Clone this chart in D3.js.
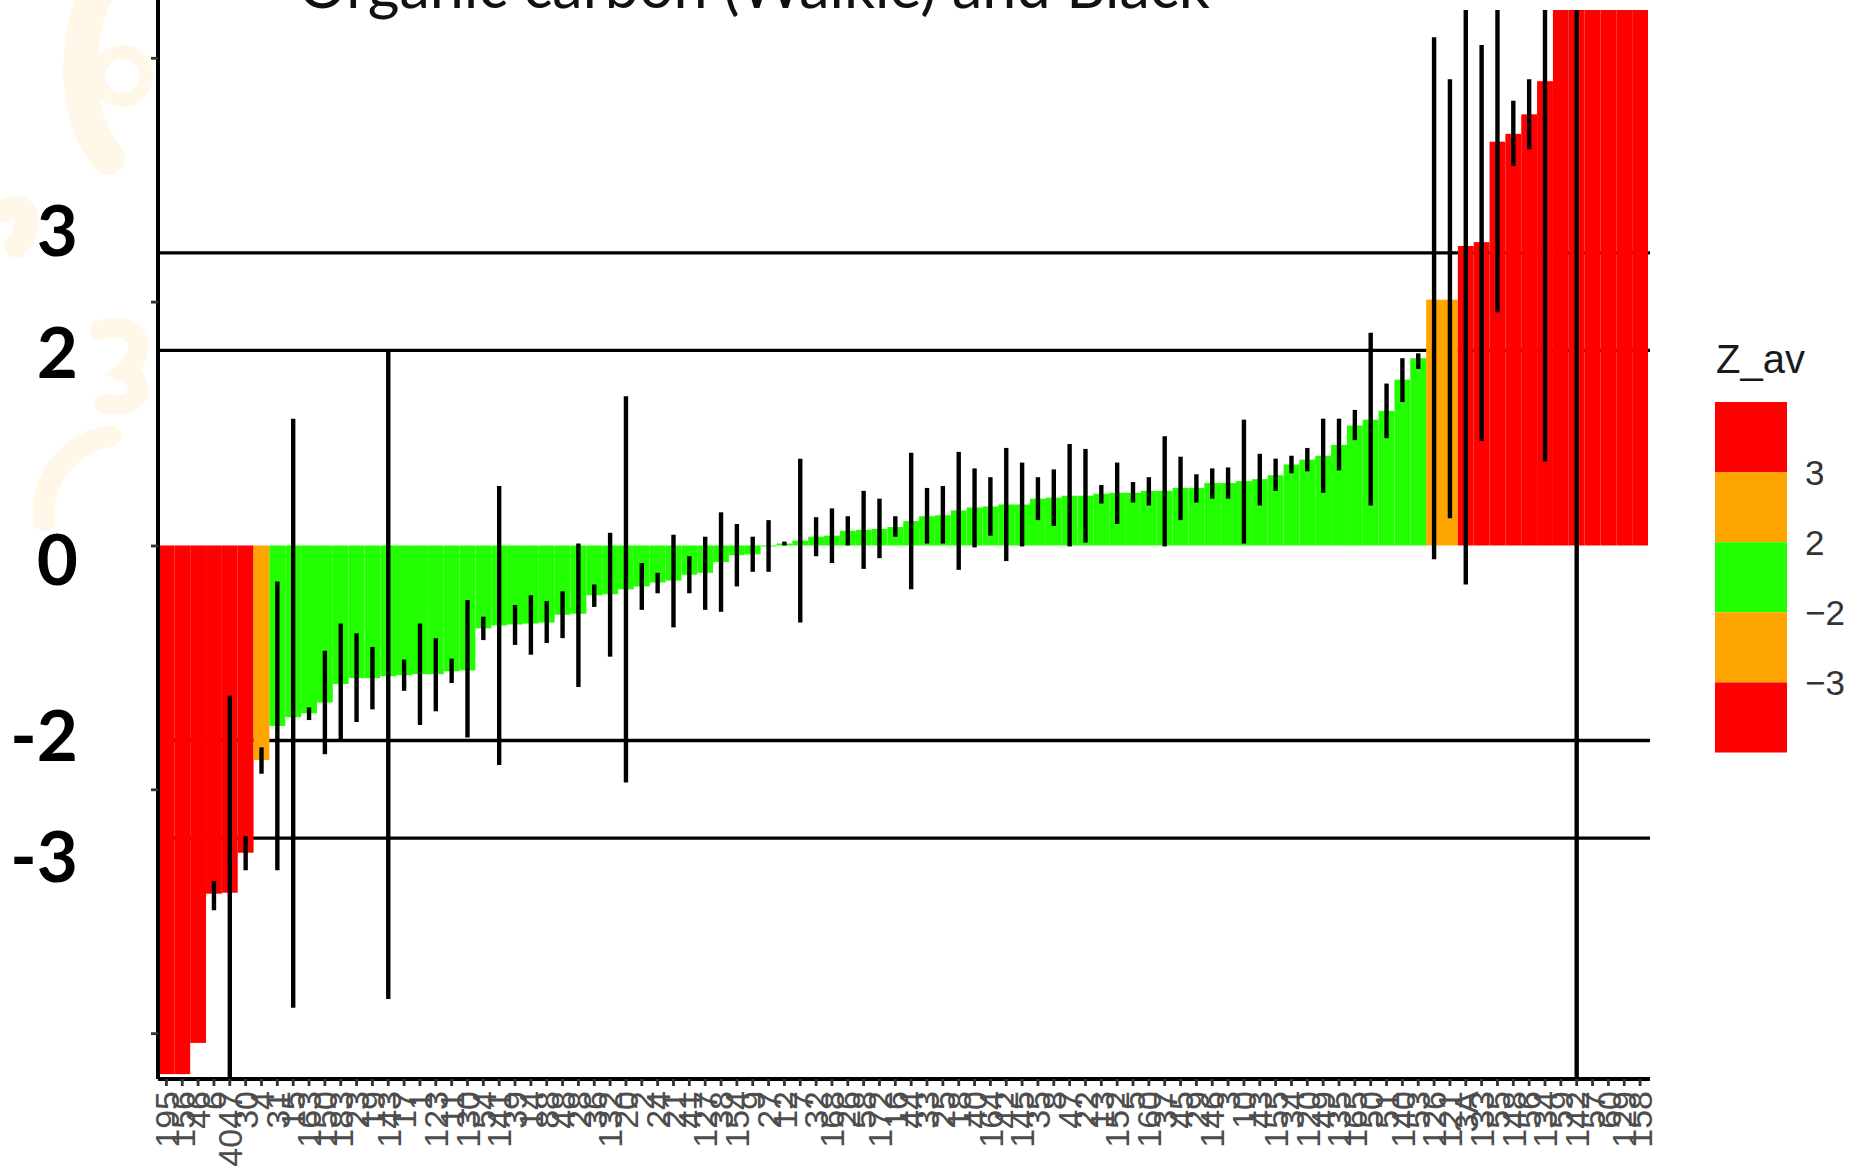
<!DOCTYPE html>
<html>
<head>
<meta charset="utf-8">
<script src="https://cdn.jsdelivr.net/npm/d3@7"></script>
<style>
  html, body { margin: 0; padding: 0; background: #ffffff; }
  svg { display: block; }
</style>
</head>
<body>
<svg id="chart" width="1864" height="1168"></svg>
<script>
// Laboratory codes, ordered by z-score
const labIds = [
  "195","156","46","6","4047","30","4","31","15","163","150","183","23","19","143",
  "17","1","123","11","130","54","141","39","14","88","48","28","36","132","20",
  "2","24","21","41","127","38","154","9","27","12","7","32","168","26","58",
  "172","16","44","33","25","18","40","164","42","145","35","8","47","22","13",
  "152","5","160","37","45","29","146","3","10","43","155","34","120","49","135",
  "165","50","51","140","53","126","121","3A","133","55","148","56","134","59","142",
  "57","60","129","158"
];

// Average z-score per laboratory
const zScores = [
  -5.42,-5.42,-5.10,-3.57,-3.56,-3.15,-2.20,-1.85,-1.76,-1.72,
  -1.61,-1.42,-1.36,-1.36,-1.34,-1.33,-1.32,-1.32,-1.29,-1.28,
  -0.85,-0.82,-0.81,-0.80,-0.79,-0.71,-0.70,-0.51,-0.50,-0.45,
  -0.42,-0.38,-0.36,-0.30,-0.28,-0.17,-0.10,-0.09,-0.01,0.02,
  0.05,0.09,0.10,0.15,0.16,0.17,0.19,0.25,0.30,0.31,
  0.36,0.39,0.40,0.42,0.42,0.48,0.49,0.51,0.51,0.53,
  0.54,0.54,0.56,0.56,0.59,0.59,0.64,0.64,0.66,0.68,
  0.72,0.83,0.88,0.92,1.03,1.23,1.29,1.38,1.70,1.92,
  2.52,2.52,3.07,3.11,4.14,4.22,4.42,4.76,6.2,7.0,
  8.5,10.0,12.5,16.0
];

// Lower and upper ends of the error bars (null: no bar)
const errLow = [
  null,null,null,-3.74,-5.60,-3.33,-2.34,-3.33,-4.74,-1.79,
  -2.14,-2.00,-1.81,-1.68,-4.65,-1.49,-1.84,-1.70,-1.41,-1.97,
  -0.97,-2.25,-1.02,-1.12,-1.00,-0.95,-1.45,-0.63,-1.14,-2.43,
  -0.66,-0.49,-0.84,-0.49,-0.66,-0.68,-0.42,-0.27,-0.27,0.00,
  -0.79,-0.11,-0.18,0.00,-0.24,-0.13,0.09,-0.45,0.02,0.02,
  -0.25,-0.02,0.10,-0.16,-0.01,0.26,0.20,-0.01,0.03,0.43,
  0.22,0.44,0.41,-0.01,0.26,0.44,0.48,0.48,0.02,0.41,
  0.56,0.74,0.76,0.54,0.77,1.08,0.41,1.10,1.47,1.81,
  -0.14,0.28,-0.40,1.07,2.39,3.89,4.06,0.86,null,-6.0,
  null,null,null,null
];
const errHigh = [
  null,null,null,-3.44,-1.54,-2.98,-2.07,-0.37,1.30,-1.66,
  -1.08,-0.80,-0.90,-1.04,2.00,-1.17,-0.80,-0.95,-1.16,-0.56,
  -0.73,0.61,-0.61,-0.51,-0.57,-0.47,0.02,-0.40,0.13,1.53,
  -0.18,-0.28,0.11,-0.11,0.09,0.34,0.22,0.09,0.26,0.04,
  0.89,0.29,0.38,0.30,0.56,0.48,0.30,0.95,0.59,0.61,
  0.96,0.79,0.70,1.00,0.85,0.70,0.78,1.04,0.99,0.62,
  0.85,0.65,0.70,1.12,0.91,0.73,0.79,0.80,1.29,0.94,
  0.89,0.92,1.00,1.30,1.30,1.39,2.18,1.66,1.92,1.97,
  5.21,4.78,6.50,5.13,5.90,4.56,4.78,8.70,null,20.0,
  null,null,null,null
];

const refLines = [3, 2, -2, -3];
const yTicks = [-5, -2.5, 0, 2.5, 5];
const binEdges = [-3, -2, 2, 3];
const binColors = ["#ff0000", "#ffa500", "#22ff00", "#ffa500", "#ff0000"];
const legendBreaks = ["3", "2", "\u22122", "\u22123"];
const sideLabels = ["3", "2", "0", "-2", "-3"];
const titleText = "Organic carbon (Walkle) and Black";

const svg = d3.select("#chart");
const W = 1864, H = 1168;
const panel = { left: 158, right: 1650, top: 10, bottom: 1079 };

svg.append("rect").attr("width", W).attr("height", H).attr("fill", "#ffffff");

// faint logo in the background of the left margin
const wm = svg.append("g").attr("fill", "none").attr("stroke", "#fff7e8").attr("stroke-linecap", "round");
wm.append("path").attr("d", "M98,-10 C72,40 74,118 108,158").attr("stroke-width", 34);
wm.append("circle").attr("cx", 122).attr("cy", 76).attr("r", 24).attr("stroke-width", 14);
wm.append("path").attr("d", "M6,210 C26,200 36,222 16,246").attr("stroke-width", 24);
wm.append("path").attr("d", "M100,330 C140,318 150,352 124,372 C150,384 140,410 104,404").attr("stroke-width", 20);
wm.append("path").attr("d", "M44,520 C40,470 80,440 110,436").attr("stroke-width", 22);

// title of the slide, cut by the top edge
const title = svg.append("text")
  .attr("x", 298).attr("y", 8)
  .attr("font-family", "Lato, 'Open Sans', sans-serif")
  .attr("font-size", 54)
  .attr("fill", "#111")
  .text(titleText);
const tl = title.node().getComputedTextLength();
title.attr("font-size", 54 * 912 / tl);

const x = d3.scaleBand().domain(labIds).range([158.5, 1648]).padding(0);
const y = d3.scaleLinear().domain([-5.47, 5.49]).range([panel.bottom, panel.top]);
const fill = d3.scaleThreshold().domain(binEdges).range(binColors);

svg.append("clipPath").attr("id", "panel-clip")
  .append("rect")
  .attr("x", panel.left).attr("y", panel.top)
  .attr("width", panel.right - panel.left).attr("height", panel.bottom - panel.top);

const plot = svg.append("g").attr("clip-path", "url(#panel-clip)");

// reference lines at |z| = 2 and 3
plot.selectAll("line.ref").data(refLines).join("line")
  .attr("class", "ref")
  .attr("x1", panel.left).attr("x2", panel.right)
  .attr("y1", d => y(d)).attr("y2", d => y(d))
  .attr("stroke", "#000").attr("stroke-width", 3.4);

const rows = labIds.map((id, i) => ({ id, z: zScores[i], lo: errLow[i], hi: errHigh[i] }));

plot.selectAll("rect.bar").data(rows).join("rect")
  .attr("class", "bar")
  .attr("x", d => x(d.id))
  .attr("width", x.bandwidth())
  .attr("y", d => y(Math.max(0, d.z)))
  .attr("height", d => Math.abs(y(d.z) - y(0)))
  .attr("fill", d => fill(d.z));

plot.selectAll("line.err").data(rows.filter(d => d.lo !== null)).join("line")
  .attr("class", "err")
  .attr("x1", d => x(d.id) + x.bandwidth() / 2)
  .attr("x2", d => x(d.id) + x.bandwidth() / 2)
  .attr("y1", d => y(d.lo)).attr("y2", d => y(d.hi))
  .attr("stroke", "#000").attr("stroke-width", 4.4);

// axes
const xAxis = svg.append("g")
  .attr("transform", `translate(0,${panel.bottom})`)
  .call(d3.axisBottom(x).tickSize(7).tickSizeOuter(0));
xAxis.select(".domain").attr("stroke", "#000").attr("stroke-width", 4)
  .attr("d", `M${panel.left},0H${panel.right}`);
xAxis.selectAll(".tick line").attr("stroke", "#333").attr("stroke-width", 2.8);
xAxis.selectAll(".tick text")
  .attr("transform", "rotate(-90)")
  .attr("x", -12).attr("y", 0).attr("dy", "0.36em")
  .style("text-anchor", "end")
  .attr("font-family", "'Liberation Sans', Arial, sans-serif")
  .attr("font-size", 34)
  .attr("fill", "#4d4d4d");

const yAxis = svg.append("g")
  .attr("transform", `translate(${panel.left},0)`)
  .call(d3.axisLeft(y).tickValues(yTicks).tickFormat("").tickSize(7).tickSizeOuter(0));
yAxis.select(".domain").attr("stroke", "#000").attr("stroke-width", 4)
  .attr("d", `M0,0V${panel.bottom}`);
yAxis.selectAll(".tick line").attr("stroke", "#333").attr("stroke-width", 2.8);

// bold level labels in the left margin
const sideBaselines = [256, 378, 585, 761, 882];
svg.append("g").selectAll("text").data(sideLabels).join("text")
  .attr("x", 78)
  .attr("y", (d, i) => sideBaselines[i])
  .attr("text-anchor", "end")
  .attr("font-family", "Lato, 'Open Sans', sans-serif")
  .attr("font-weight", 700)
  .attr("font-size", 71)
  .attr("fill", "#000")
  .text(d => d);

// legend
const legend = svg.append("g");
legend.append("text")
  .attr("x", 1716).attr("y", 373)
  .attr("font-family", "'Liberation Sans', Arial, sans-serif")
  .attr("font-size", 40)
  .attr("fill", "#1a1a1a")
  .text("Z_av");
const legendY = d3.scaleLinear().domain([0, binColors.length]).range([402, 752.5]);
legend.selectAll("rect").data(binColors).join("rect")
  .attr("x", 1715).attr("width", 72)
  .attr("y", (d, i) => legendY(i))
  .attr("height", legendY(1) - legendY(0))
  .attr("fill", d => d);
legend.selectAll("text.lab").data(legendBreaks).join("text")
  .attr("class", "lab")
  .attr("x", 1805)
  .attr("y", (d, i) => legendY(i + 1))
  .attr("dy", "0.36em")
  .attr("font-family", "'Liberation Sans', Arial, sans-serif")
  .attr("font-size", 35)
  .attr("fill", "#333")
  .text(d => d);
</script>
</body>
</html>
